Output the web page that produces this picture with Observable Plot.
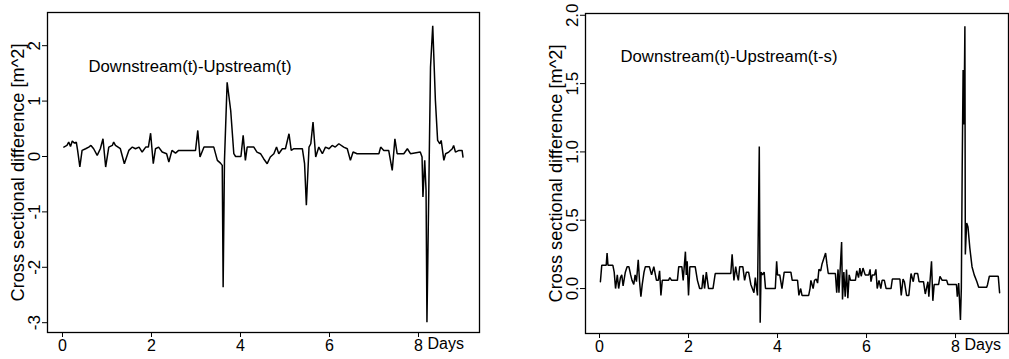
<!DOCTYPE html>
<html>
<head>
<meta charset="utf-8">
<script src="https://cdn.jsdelivr.net/npm/d3@7"></script>
<script src="https://cdn.jsdelivr.net/npm/@observablehq/plot@0.6"></script>
<style>
  html, body { margin: 0; padding: 0; background: #fff; }
  #wrap { position: relative; width: 1009px; height: 359px; overflow: hidden; }
  #left { position: absolute; left: 0; top: 0; }
  #right { position: absolute; left: 500px; top: 0; }
  svg { font-family: "Liberation Sans", Arial, Helvetica, sans-serif; }
</style>
</head>
<body>
<div id="wrap"><div id="left"></div><div id="right"></div></div>
<script>
// ---- Data (days, cross sectional difference m^2) ----
const leftDays = [0.03,0.10,0.14,0.18,0.22,0.27,0.31,0.34,0.39,0.44,0.52,0.59,0.64,0.70,0.78,0.85,0.91,0.97,1.04,1.12,1.15,1.19,1.30,1.39,1.49,1.57,1.64,1.72,1.79,1.87,1.93,1.98,2.04,2.09,2.16,2.24,2.34,2.39,2.46,2.54,2.61,2.99,3.04,3.09,3.18,3.40,3.48,3.55,3.59,3.61,3.64,3.70,3.78,3.85,3.89,4.01,4.06,4.11,4.15,4.30,4.37,4.45,4.52,4.60,4.67,4.75,4.81,4.86,4.94,5.01,5.09,5.14,5.20,5.39,5.44,5.48,5.54,5.58,5.63,5.69,5.76,5.84,5.91,5.99,6.06,6.13,6.21,6.32,6.40,6.47,6.53,6.62,7.11,7.15,7.22,7.33,7.41,7.47,7.52,7.67,7.75,7.82,8.04,8.08,8.10,8.14,8.17,8.19,8.27,8.32,8.38,8.43,8.48,8.51,8.57,8.61,8.68,8.76,8.79,8.83,8.91,8.98,9.00];
const leftVals = [0.17,0.20,0.26,0.18,0.28,0.24,0.26,0.11,-0.19,0.11,0.14,0.17,0.20,0.14,0.02,0.14,0.32,-0.19,0.17,0.20,0.26,0.20,0.14,-0.13,0.11,0.17,0.14,0.17,0.08,0.17,0.17,0.42,-0.13,0.14,0.17,0.08,0.05,-0.10,0.11,0.06,0.11,0.11,0.47,-0.01,0.17,0.17,-0.07,-0.12,-0.16,-2.36,-0.07,1.34,0.83,0.05,0.0,0.0,0.38,-0.07,0.17,0.17,0.08,0.05,-0.04,-0.13,-0.01,0.05,0.17,0.05,0.14,0.14,0.41,0.11,0.14,0.14,-0.13,-0.88,0.17,0.23,0.62,-0.01,0.17,0.05,0.17,0.14,0.20,0.17,0.23,0.17,0.14,-0.07,0.08,0.05,0.05,0.17,0.11,0.11,-0.25,0.32,0.05,0.05,0.14,0.05,0.08,-0.01,-0.73,-0.07,-0.61,-2.99,1.61,2.36,1.01,0.29,0.23,0.29,-0.07,0.05,0.08,0.14,0.20,0.08,0.11,0.11,-0.01];

const rightDays = [0.02,0.05,0.15,0.17,0.19,0.30,0.33,0.36,0.40,0.43,0.47,0.50,0.53,0.58,0.62,0.66,0.70,0.73,0.77,0.80,0.83,0.87,0.90,0.93,0.96,1.00,1.03,1.12,1.17,1.22,1.28,1.32,1.35,1.38,1.41,1.55,1.58,1.62,1.75,1.78,1.85,1.88,1.93,1.95,1.97,2.00,2.03,2.15,2.20,2.25,2.30,2.33,2.36,2.40,2.45,2.55,2.60,2.95,2.98,3.02,3.06,3.09,3.12,3.15,3.22,3.26,3.30,3.35,3.40,3.47,3.50,3.55,3.59,3.61,3.63,3.66,3.70,3.73,3.95,3.98,4.00,4.05,4.10,4.15,4.30,4.33,4.45,4.48,4.52,4.55,4.70,4.73,4.75,4.80,4.83,4.87,4.90,4.93,4.97,5.00,5.08,5.11,5.14,5.30,5.33,5.36,5.38,5.44,5.46,5.49,5.52,5.55,5.58,5.61,5.64,5.75,5.78,5.82,5.85,5.88,5.92,5.97,6.05,6.08,6.10,6.13,6.18,6.21,6.24,6.28,6.32,6.35,6.40,6.44,6.55,6.58,6.75,6.78,6.82,6.85,6.90,6.95,7.00,7.05,7.08,7.15,7.18,7.28,7.32,7.38,7.40,7.46,7.49,7.52,7.62,7.65,7.70,7.80,7.83,8.02,8.04,8.07,8.11,8.13,8.15,8.17,8.19,8.21,8.22,8.25,8.28,8.32,8.37,8.42,8.48,8.52,8.70,8.72,8.76,8.96,8.99];
const rightVals = [0.05,0.17,0.17,0.26,0.17,0.17,0.12,0.00,0.10,0.00,0.08,0.10,0.02,0.12,0.16,0.16,0.10,0.06,0.03,0.10,0.05,0.21,0.05,-0.06,0.03,0.12,0.16,0.16,0.10,0.16,0.06,0.06,0.13,-0.05,0.06,0.06,0.08,0.06,0.06,0.16,0.16,0.06,0.27,0.10,0.20,-0.05,0.16,0.16,0.06,0.00,0.00,0.10,0.00,0.12,0.00,0.00,0.11,0.11,0.25,0.06,0.16,0.10,0.06,0.16,0.16,0.06,0.12,0.12,0.03,-0.03,0.08,-0.05,1.04,-0.25,0.12,0.10,0.12,0.00,0.00,0.20,0.10,0.10,0.00,0.12,0.12,0.06,0.06,-0.05,0.00,-0.05,-0.05,0.00,0.06,0.00,0.06,0.07,0.04,0.14,0.13,0.18,0.26,0.18,0.11,0.11,-0.03,0.14,-0.03,0.34,-0.08,0.12,-0.06,0.14,-0.07,0.10,0.06,0.06,0.13,0.08,0.15,0.09,0.15,0.10,0.10,0.14,0.05,0.10,0.10,0.14,0.00,0.06,0.00,0.06,0.06,0.00,0.00,0.07,0.07,-0.05,0.07,0.05,-0.05,-0.05,0.11,0.05,0.11,0.11,0.05,0.05,-0.04,0.05,-0.06,0.20,-0.09,0.03,0.03,0.09,0.06,0.06,0.03,0.03,-0.06,0.04,-0.23,0.00,0.90,1.60,1.20,1.92,0.25,0.48,0.45,0.30,0.16,0.10,0.05,0.01,0.01,0.03,0.09,0.09,-0.03];

const xTicks = [0, 2, 4, 6, 8];
const leftYTicks = [-3, -2, -1, 0, 1, 2];
const rightYTicks = [0, 0.5, 1, 1.5, 2];
const leftTitle = "Downstream(t)-Upstream(t)";
const rightTitle = "Downstream(t)-Upstream(t-s)";
const yLabel = "Cross sectional difference [m^2]";
const xUnit = "Days";

function panel({days, vals, width, marginLeft, marginRight, marginTop, marginBottom, xDomain, yDomain, yTicks, yFormat, title, titleDx, titleDy}) {
  const rows = days.map((d, i) => ({day: d, v: vals[i]}));
  return Plot.plot({
    width, height: 359,
    marginLeft, marginRight, marginTop, marginBottom,
    style: {fontFamily: '"Liberation Sans", Arial, sans-serif', fontSize: "16px", color: "#000", background: "#fff"},
    x: {domain: xDomain},
    y: {domain: yDomain},
    marks: [
      Plot.frame({stroke: "#000", strokeWidth: 1.3}),
      Plot.axisX({ticks: xTicks, tickSize: 5, tickPadding: 2, fontSize: 16, label: null, tickFormat: d => String(d)}),
      Plot.axisY({ticks: yTicks, tickSize: 5, label: null, tickFormat: () => ""}),
      Plot.text(yTicks, {y: d => d, frameAnchor: "left", text: yFormat, rotate: -90, textAnchor: "middle", dx: -13, fontSize: 17}),
      Plot.text([xUnit], {x: () => 8, frameAnchor: "bottom", text: d => d, textAnchor: "start", dx: 9, dy: 16, fontSize: 16}),
      Plot.text([yLabel], {frameAnchor: "left", text: d => d, rotate: -90, textAnchor: "middle", dx: -29, fontSize: 18.2}),
      Plot.text([title], {frameAnchor: "top-left", text: d => d, textAnchor: "start", dx: titleDx, dy: titleDy, fontSize: 16.7}),
      Plot.line(rows, {x: "day", y: "v", stroke: "#000", strokeWidth: 1.5, strokeLinejoin: "miter"})
    ]
  });
}

document.getElementById("left").appendChild(panel({
  days: leftDays, vals: leftVals, width: 490,
  marginLeft: 47, marginRight: 11, marginTop: 12, marginBottom: 27,
  xDomain: [-0.337, 9.371], yDomain: [-3.177, 2.599],
  yTicks: leftYTicks, yFormat: d => String(d),
  title: leftTitle, titleDx: 41, titleDy: 48
}));

document.getElementById("right").appendChild(panel({
  days: rightDays, vals: rightVals, width: 509,
  marginLeft: 85, marginRight: 1, marginTop: 13, marginBottom: 26,
  xDomain: [-0.315, 9.19], yDomain: [-0.329, 2.013],
  yTicks: rightYTicks, yFormat: d3.format(".1f"),
  title: rightTitle, titleDx: 35, titleDy: 37
}));
</script>
</body>
</html>
